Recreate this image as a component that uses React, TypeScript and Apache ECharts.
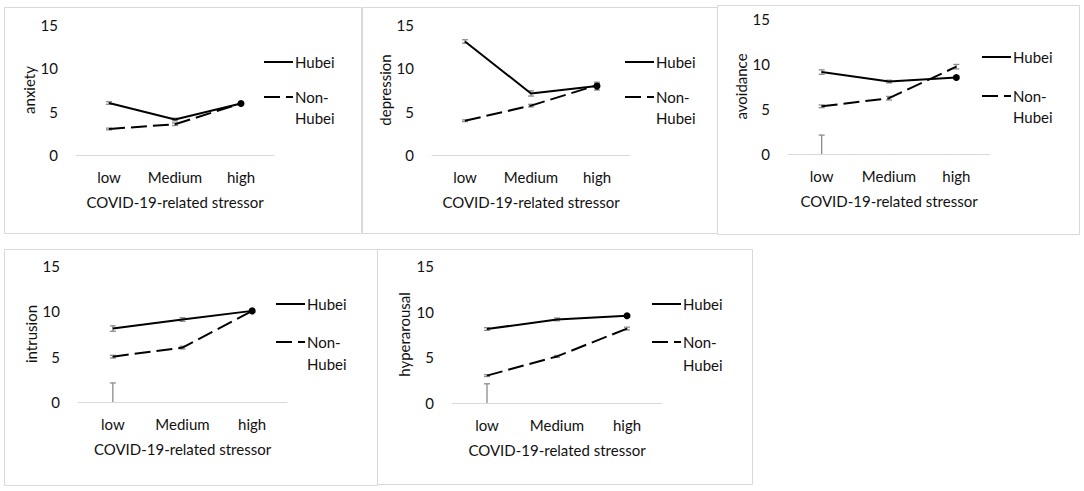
import React, { useEffect, useRef } from "react";
import * as echarts from "echarts";

const categories = ["low", "Medium", "high"];
const yTicks = [0, 5, 10, 15];

const anxietyHubei = [6.0, 4.1, 5.95];
const anxietyNonHubei = [3.0, 3.55, 5.95];
const depressionHubei = [13.1, 7.1, 7.95];
const depressionNonHubei = [3.95, 5.7, 8.05];
const avoidanceHubei = [9.1, 8.05, 8.5];
const avoidanceNonHubei = [5.3, 6.2, 9.7];
const intrusionHubei = [8.1, 9.1, 10.05];
const intrusionNonHubei = [5.0, 6.0, 10.05];
const hyperarousalHubei = [8.1, 9.15, 9.55];
const hyperarousalNonHubei = [3.0, 5.1, 8.15];

const anxietyHubeiErr = [0.15, 0.15, 0.15];
const anxietyNonHubeiErr = [0.1, 0.15, 0.15];
const depressionHubeiErr = [0.2, 0.3, 0.45];
const depressionNonHubeiErr = [0.1, 0.15, 0.2];
const avoidanceHubeiErr = [0.25, 0.15, 0.15];
const avoidanceNonHubeiErr = [0.15, 0.2, 0.25];
const intrusionHubeiErr = [0.3, 0.2, 0.15];
const intrusionNonHubeiErr = [0.15, 0.15, 0.15];
const hyperarousalHubeiErr = [0.15, 0.15, 0.15];
const hyperarousalNonHubeiErr = [0.1, 0.1, 0.15];

// stray grey error bar at "low" (from 0 to ~2) seen in three panels
const strayBarTop = [null, null, 2.1, 2.1, 2.1];

const panelNames = ["anxiety", "depression", "avoidance", "intrusion", "hyperarousal"];
const hubeiData = [anxietyHubei, depressionHubei, avoidanceHubei, intrusionHubei, hyperarousalHubei];
const nonHubeiData = [anxietyNonHubei, depressionNonHubei, avoidanceNonHubei, intrusionNonHubei, hyperarousalNonHubei];
const hubeiErr = [anxietyHubeiErr, depressionHubeiErr, avoidanceHubeiErr, intrusionHubeiErr, hyperarousalHubeiErr];
const nonHubeiErr = [anxietyNonHubeiErr, depressionNonHubeiErr, avoidanceNonHubeiErr, intrusionNonHubeiErr, hyperarousalNonHubeiErr];

// layout (pixels)
const layouts = [
  { box: [4, 7, 357, 226], grid: [76, 25, 198, 130], leg: [264, 62, 97, 118], nameGap: 37 },
  { box: [362, 7, 355, 226], grid: [432, 25, 198, 130], leg: [625, 62, 97, 118], nameGap: 37 },
  { box: [717, 5, 362, 229], grid: [788, 19, 202, 135], leg: [982, 57, 96, 117], nameGap: 37 },
  { box: [4, 249, 373, 236], grid: [78, 266, 209, 136], leg: [276, 304, 342, 364], nameGap: 38 },
  { box: [377, 249, 375, 235], grid: [452, 266, 210, 137], leg: [652, 304, 342, 365], nameGap: 41 },
];

const FONT = "Lato";
const FS = 15;
const TEXT = "#111";

function errorRender(params: any, api: any) {
  const x = api.value(0);
  const lo = api.coord([x, api.value(1)]);
  const hi = api.coord([x, api.value(2)]);
  const half = 3;
  const style = { stroke: "#8c8c8c", lineWidth: 1.3 };
  const children: any[] = [
    { type: "line", shape: { x1: lo[0], y1: lo[1], x2: hi[0], y2: hi[1] }, style },
    { type: "line", shape: { x1: hi[0] - half, y1: hi[1], x2: hi[0] + half, y2: hi[1] }, style },
  ];
  if (api.value(1) > 0) {
    children.push({ type: "line", shape: { x1: lo[0] - half, y1: lo[1], x2: lo[0] + half, y2: lo[1] }, style });
  }
  return { type: "group", children };
}

export default function App() {
  const ref = useRef<HTMLDivElement>(null);
  useEffect(() => {
    if (!ref.current) return;
    const chart = echarts.init(ref.current, null, { renderer: "svg" });
    const grids: any[] = [];
    const xAxes: any[] = [];
    const yAxes: any[] = [];
    const series: any[] = [];
    const graphics: any[] = [];

    layouts.forEach((L, i) => {
      grids.push({ left: L.grid[0], top: L.grid[1], width: L.grid[2], height: L.grid[3] });
      xAxes.push({
        type: "category",
        gridIndex: i,
        data: categories,
        name: "COVID-19-related stressor",
        nameLocation: "middle",
        nameGap: 39,
        nameTextStyle: { fontFamily: FONT, fontSize: FS, color: TEXT },
        axisLine: { lineStyle: { color: "#d9d9d9", width: 1 } },
        axisTick: { show: false },
        axisLabel: { fontFamily: FONT, fontSize: FS, color: TEXT, margin: 14, interval: 0, hideOverlap: false },
      });
      yAxes.push({
        type: "value",
        gridIndex: i,
        min: yTicks[0],
        max: yTicks[yTicks.length - 1],
        interval: 5,
        name: panelNames[i],
        nameLocation: "middle",
        nameGap: L.nameGap,
        nameTextStyle: { fontFamily: FONT, fontSize: FS, color: TEXT },
        axisLine: { show: false },
        axisTick: { show: false },
        splitLine: { show: false },
        axisLabel: { fontFamily: FONT, fontSize: FS, color: TEXT, margin: 18 },
      });
      const h = hubeiData[i];
      const n = nonHubeiData[i];
      series.push({
        type: "line",
        name: "Hubei",
        xAxisIndex: i,
        yAxisIndex: i,
        symbol: "none",
        data: h.map((v, j) => (j === h.length - 1 ? { value: v, symbol: "circle", symbolSize: 7, itemStyle: { color: "#000" } } : v)),
        lineStyle: { color: "#000", width: 2 },
        itemStyle: { color: "#000" },
        z: 3,
      });
      series.push({
        type: "line",
        name: "Non-Hubei",
        xAxisIndex: i,
        yAxisIndex: i,
        symbol: "none",
        data: n,
        lineStyle: { color: "#000", width: 2, type: [16, 6] },
        itemStyle: { color: "#000" },
        z: 3,
      });
      const errData: any[] = [];
      h.forEach((v, j) => errData.push([j, v - hubeiErr[i][j], v + hubeiErr[i][j]]));
      n.forEach((v, j) => errData.push([j, v - nonHubeiErr[i][j], v + nonHubeiErr[i][j]]));
      if (strayBarTop[i] != null) errData.push([0, 0, strayBarTop[i]]);
      series.push({
        type: "custom",
        name: "error",
        xAxisIndex: i,
        yAxisIndex: i,
        renderItem: errorRender,
        encode: { x: 0, y: [1, 2] },
        data: errData,
        z: 2,
      });

      graphics.push({
        type: "rect",
        shape: { x: L.box[0] + 0.5, y: L.box[1] + 0.5, width: L.box[2], height: L.box[3] },
        style: { fill: "none", stroke: "#d9d9d9", lineWidth: 1 },
        silent: true,
      });
      const lx = L.leg[0];
      graphics.push({
        type: "line",
        shape: { x1: lx, y1: L.leg[1], x2: lx + 29, y2: L.leg[1] },
        style: { stroke: "#000", lineWidth: 2 },
      });
      graphics.push({
        type: "line",
        shape: { x1: lx, y1: L.leg[2], x2: lx + 29, y2: L.leg[2] },
        style: { stroke: "#000", lineWidth: 2, lineDash: [16, 6] },
      });
      const txt = (t: string, y: number) => ({
        type: "text",
        x: lx + 31,
        y,
        style: { text: t, fontFamily: FONT, fontSize: FS, fill: TEXT, verticalAlign: "middle", align: "left" },
      });
      graphics.push(txt("Hubei", L.leg[1]));
      graphics.push(txt("Non-", L.leg[2]));
      graphics.push(txt("Hubei", L.leg[3]));
    });

    chart.setOption({
      animation: false,
      backgroundColor: "#fff",
      grid: grids,
      xAxis: xAxes,
      yAxis: yAxes,
      series,
      graphic: graphics,
    });
    return () => chart.dispose();
  }, []);
  return <div ref={ref} style={{ position: "absolute", left: 0, top: 0, width: 1084, height: 491 }} />;
}
